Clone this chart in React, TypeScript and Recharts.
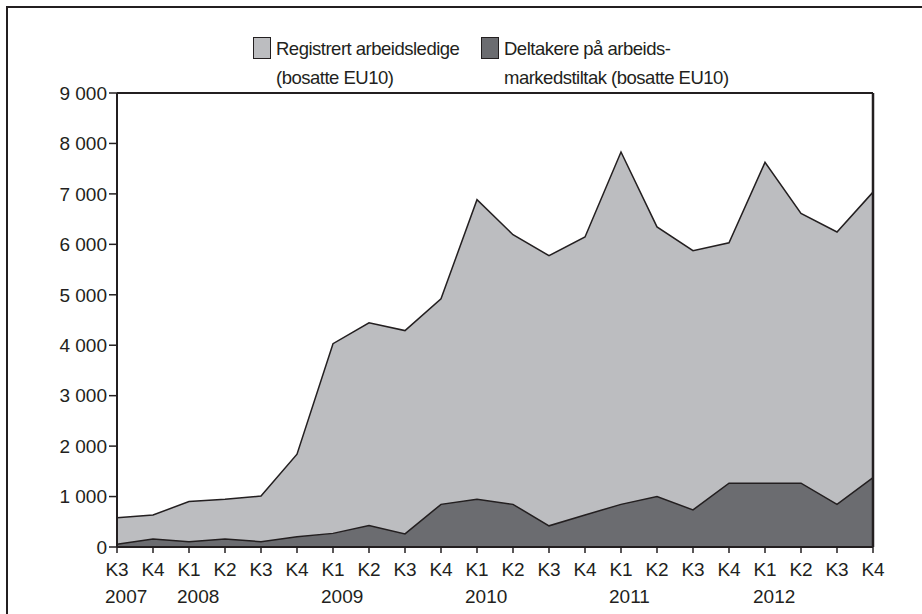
import {
  AreaChart,
  Area,
  XAxis,
  YAxis,
  ReferenceLine,
} from 'recharts';

const quarters = [
  'K3', 'K4',
  'K1', 'K2', 'K3', 'K4',
  'K1', 'K2', 'K3', 'K4',
  'K1', 'K2', 'K3', 'K4',
  'K1', 'K2', 'K3', 'K4',
  'K1', 'K2', 'K3', 'K4',
];
const yearLabels = [
  '2007', '',
  '2008', '', '', '',
  '2009', '', '', '',
  '2010', '', '', '',
  '2011', '', '', '',
  '2012', '', '', '',
];
const registrert = [
  580, 635, 900, 945, 1010, 1840, 4030, 4445, 4290, 4920, 6885,
  6190, 5775, 6145, 7830, 6345, 5875, 6030, 7625, 6615, 6245, 7035,
];
const deltakere = [
  55, 160, 105, 160, 105, 205, 270, 425, 260, 845, 945,
  845, 420, 635, 845, 1000, 735, 1265, 1265, 1265, 845, 1375,
];
const yTicks = [0, 1000, 2000, 3000, 4000, 5000, 6000, 7000, 8000, 9000];

const legendItems = [
  { lines: ['Registrert arbeidsledige', '(bosatte EU10)'], color: '#bcbdc0', left: 253, width: 225 },
  { lines: ['Deltakere på arbeids-', 'markedstiltak (bosatte EU10)'], color: '#6b6c70', left: 481, width: 260 },
];

const FONT = '"Liberation Sans", Arial, sans-serif';
const INK = '#231f20';

const data = quarters.map((q, i) => ({
  key: `${i}-${q}`,
  registrert: registrert[i],
  deltakere: deltakere[i],
}));

function formatThousands(v: number) {
  if (v === 0) return '0';
  return `${Math.floor(v / 1000)} 000`;
}

function QuarterTick(props: any) {
  const { x, y, index } = props;
  const year = yearLabels[index];
  return (
    <g>
      <text x={x} y={y + 21} textAnchor="middle" fontSize={19} fontFamily={FONT} fill={INK}>
        {quarters[index]}
      </text>
      {year && (
        <text x={x - 12} y={y + 48} textAnchor="start" fontSize={19} fontFamily={FONT} fill={INK}>
          {year}
        </text>
      )}
    </g>
  );
}

function ChartLegend() {
  return (
    <>
      {legendItems.map((item, i) => (
        <div
          key={i}
          style={{ position: 'absolute', top: 38, left: item.left, width: item.width, display: 'flex', alignItems: 'flex-start' }}
        >
          <div
            style={{
              width: 16,
              height: 20,
              background: item.color,
              border: `1.5px solid ${INK}`,
              marginTop: -1,
              marginRight: 5,
              flexShrink: 0,
            }}
          />
          <div
            style={{
              fontFamily: FONT,
              fontSize: 18.5,
              letterSpacing: -0.5,
              lineHeight: '29px',
              color: INK,
              whiteSpace: 'nowrap',
              marginTop: -4,
            }}
          >
            {item.lines.map((l, j) => (
              <div key={j}>{l}</div>
            ))}
          </div>
        </div>
      ))}
    </>
  );
}

export default function App() {
  return (
    <div style={{ position: 'absolute', left: 0, top: 0, width: 922, height: 614, background: '#fff' }}>
      <div
        style={{
          position: 'absolute',
          left: 6,
          top: 6,
          right: 0,
          bottom: 0,
          borderLeft: `2.5px solid ${INK}`,
          borderTop: `2.5px solid ${INK}`,
        }}
      />
      <AreaChart
        width={922}
        height={614}
        data={data}
        margin={{ top: 93, right: 49, left: 0, bottom: 0 }}
        style={{ position: 'absolute', left: 0, top: 0 }}
      >
        <XAxis
          dataKey="key"
          interval={0}
          height={67}
          tickSize={6}
          tickLine={{ stroke: INK, strokeWidth: 1.5 }}
          axisLine={{ stroke: INK, strokeWidth: 2 }}
          tick={<QuarterTick />}
        />
        <YAxis
          width={117}
          domain={[0, 9000]}
          ticks={yTicks}
          tickSize={8}
          tickFormatter={formatThousands}
          tickLine={{ stroke: INK, strokeWidth: 1.5 }}
          axisLine={{ stroke: INK, strokeWidth: 2 }}
          tick={{ fontSize: 19, fontFamily: FONT, fill: INK }}
        />
        <Area
          type="linear"
          dataKey="registrert"
          stroke={INK}
          strokeWidth={1.5}
          fill="#bcbdc0"
          fillOpacity={1}
          dot={false}
          activeDot={false}
          isAnimationActive={false}
        />
        <Area
          type="linear"
          dataKey="deltakere"
          stroke={INK}
          strokeWidth={1.5}
          fill="#6b6c70"
          fillOpacity={1}
          dot={false}
          activeDot={false}
          isAnimationActive={false}
        />
        <ReferenceLine y={9000} stroke={INK} strokeWidth={2} />
        <ReferenceLine x={data[data.length - 1].key} stroke={INK} strokeWidth={2.5} />
      </AreaChart>
      <ChartLegend />
    </div>
  );
}
